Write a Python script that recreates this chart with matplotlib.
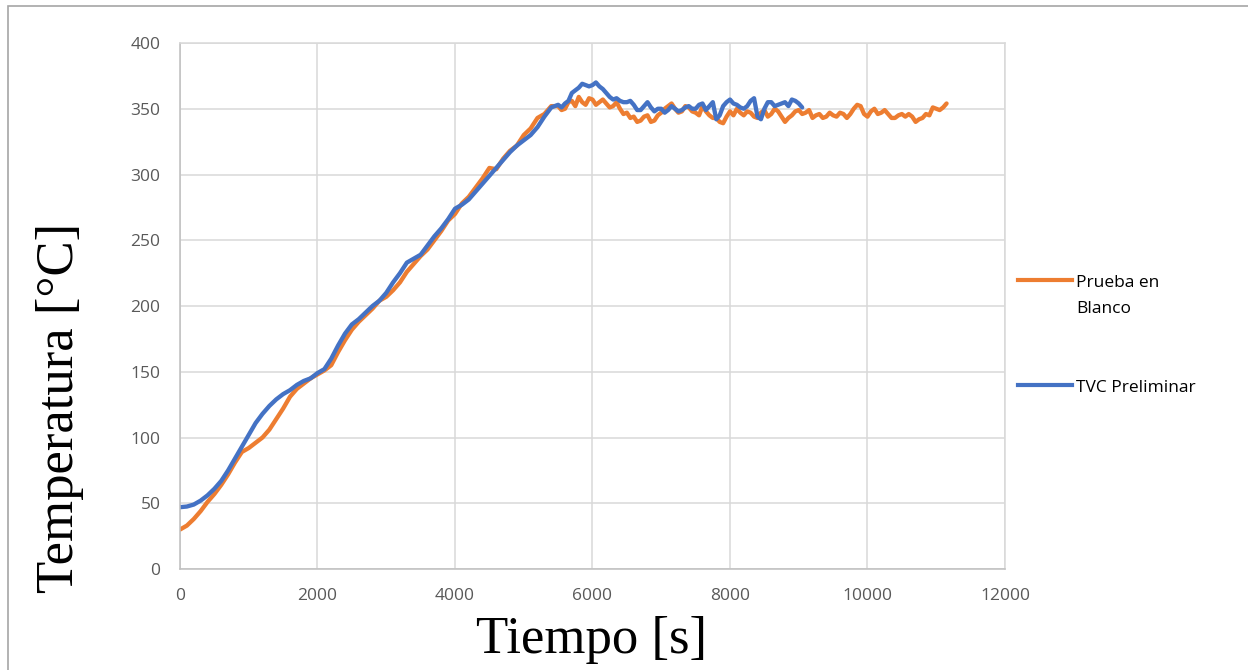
import matplotlib.pyplot as plt
from matplotlib.lines import Line2D
from matplotlib.patches import Rectangle
import numpy as np

# Prueba en Blanco (orange): every 100 s up to 5400, then every 50 s
t_blanco = list(range(0, 5500, 100)) + list(range(5500, 11151, 50))
T_blanco = [30, 33, 38, 44, 51, 57, 64, 72, 81, 89,
            92, 96, 100, 106, 114, 122, 131, 137, 141, 145,
            148, 151, 155, 165, 174, 182, 188, 193, 198, 204,
            207, 212, 218, 226, 232, 238, 243, 250, 257, 265,
            270, 278, 283, 290, 297, 305, 304, 312, 318, 322,
            330, 335, 343, 346, 352,
            352, 349, 350, 355, 356, 352, 359, 355, 353, 358,
            357, 353, 355, 357, 354, 351, 352, 355, 350, 346,
            347, 343, 344, 340, 341, 344, 345, 340, 341, 345,
            347, 350, 352, 354, 350, 347, 348, 352, 351, 348,
            347, 345, 352, 348, 345, 343, 343, 340, 339, 344,
            348, 345, 350, 347, 345, 348, 347, 344, 343, 347,
            349, 344, 346, 350, 348, 344, 340, 343, 345, 348,
            349, 346, 347, 349, 343, 345, 346, 343, 344, 347,
            345, 344, 347, 346, 343, 346, 350, 353, 352, 346,
            344, 348, 350, 346, 347, 349, 346, 343, 343, 345,
            346, 344, 346, 344, 340, 342, 343, 346, 345, 351,
            350, 349, 351, 354]

# TVC Preliminar (blue): every 100 s up to 5400, then every 50 s
t_tvc = list(range(0, 5500, 100)) + list(range(5500, 9051, 50))
T_tvc = [47, 47.5, 49, 52, 56, 61, 67, 75, 84, 93,
         102, 111, 118, 124, 129, 133, 136, 140, 143, 145,
         149, 152, 160, 170, 179, 186, 190, 195, 200, 204,
         210, 218, 225, 233, 236, 239, 246, 253, 259, 266,
         274, 277, 281, 287, 293, 299, 305, 311, 317, 322,
         326, 330, 336, 344, 351,
         353, 351, 354, 356, 362, 364, 366, 369, 368, 367,
         368, 370, 367, 365, 362, 359, 357, 358, 356, 355,
         355, 356, 353, 349, 349, 352, 355, 351, 348, 350,
         350, 347, 349, 352, 350, 348, 349, 351, 352, 350,
         350, 353, 354, 349, 352, 355, 342, 345, 352, 355,
         357, 354, 353, 351, 350, 352, 356, 358, 344, 342,
         350, 355, 355, 352, 353, 354, 355, 352, 357, 356,
         354, 351]

x_ticks = np.arange(0, 12001, 2000)
y_ticks = np.arange(0, 401, 50)

orange = '#ED7D31'
blue = '#4472C4'
grid_c = '#D9D9D9'
tick_c = '#595959'

fig = plt.figure(figsize=(12.48, 6.7), dpi=100)
ax = fig.add_axes([180/1248, 1-569/670, 825/1248, 526/670])

ax.plot(t_blanco, T_blanco, color=orange, lw=3.1, solid_capstyle='round', solid_joinstyle='round')
ax.plot(t_tvc, T_tvc, color=blue, lw=3.1, solid_capstyle='round', solid_joinstyle='round')

ax.set_xlim(0, 12000)
ax.set_ylim(0, 400)
ax.set_xticks(x_ticks)
ax.set_yticks(y_ticks)
ax.grid(True, color=grid_c, lw=1.1)
ax.set_axisbelow(True)
for s in ax.spines.values():
    s.set_color(grid_c)
    s.set_linewidth(1.1)
ax.spines['left'].set_color('#BFBFBF')
ax.spines['bottom'].set_color('#BFBFBF')
ax.tick_params(length=0, labelsize=12.5, labelcolor=tick_c, pad=14)
for lab in ax.get_xticklabels() + ax.get_yticklabels():
    lab.set_family('Open Sans')

fig.text(592/1248, 1-640/670, 'Tiempo [s]', family='Liberation Serif',
         fontsize=38, ha='center', va='center')
fig.text(60/1248, 1-408/670, 'Temperatura [°C]', family='Liberation Serif',
         fontsize=38, ha='center', va='center', rotation=90)

# legend
for yy, col, txt in [(280, orange, 'Prueba en\nBlanco'), (385, blue, 'TVC Preliminar')]:
    fig.add_artist(Line2D([1018/1248, 1072/1248], [1-yy/670, 1-yy/670],
                          color=col, lw=3, transform=fig.transFigure))
    fig.text(1076/1248, 1-(yy-5)/670, txt, family='Open Sans', fontsize=12.5,
             ha='left', va='top', linespacing=1.85)

# chart border
fig.add_artist(Rectangle((8/1248, -0.1), 1.2, 1.1 - 6/670, fill=False,
                         edgecolor='#A6A6A6', lw=1.2, transform=fig.transFigure))

fig.savefig('out.png', dpi=100)
